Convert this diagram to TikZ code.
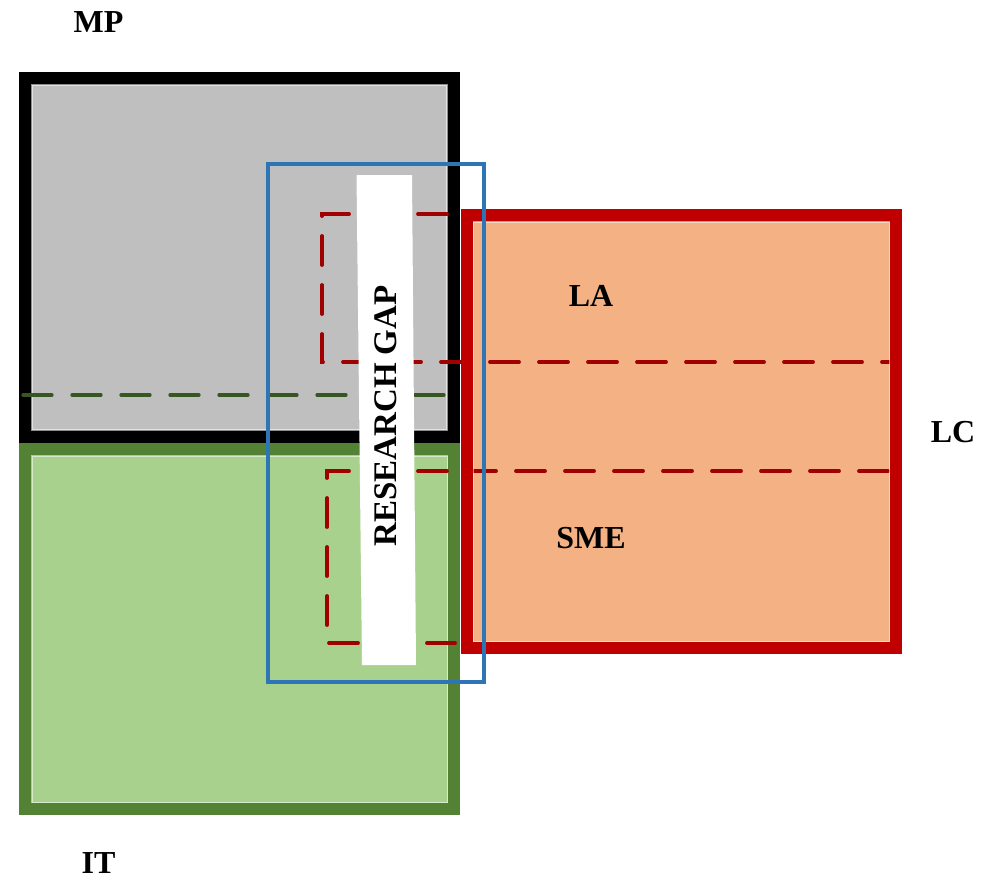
\documentclass[tikz,border=0pt]{standalone}
\usepackage{fontspec}
\setmainfont{Liberation Serif}
\definecolor{mpfill}{HTML}{BFBFBF}
\definecolor{itfill}{HTML}{A9D18E}
\definecolor{itline}{HTML}{548235}
\definecolor{lcfill}{HTML}{F4B183}
\definecolor{lcline}{HTML}{C00000}
\definecolor{gapblue}{HTML}{2E75B6}
\definecolor{dashred}{HTML}{A00000}
\definecolor{dashgreen}{HTML}{375623}
\begin{document}
\begin{tikzpicture}[x=1pt,y=-1pt,
  setbox/.style={line width=12.5pt},
  glow/.style={draw=white,opacity=0.55,line width=1.2pt},
  reddash/.style={draw=dashred,line width=3.8pt,line cap=round,dash pattern=on 29pt off 20pt},
  greendash/.style={draw=dashgreen,line width=3.3pt,line cap=round,dash pattern=on 29pt off 20pt},
  lbl/.style={font=\fontsize{32}{38}\selectfont\bfseries,inner sep=0pt}]
\useasboundingbox (0,0) rectangle (981,879);
% MP (gray)
\draw[setbox,draw=black,fill=mpfill] (25.5,78.5) rectangle (453.5,436.5);
\draw[glow] (32,85) rectangle (447,430);
% IT (green)
\draw[setbox,draw=itline,fill=itfill] (25.5,449.5) rectangle (454,809);
\draw[glow] (32,456) rectangle (447.5,802.5);
% LC (red)
\draw[setbox,draw=lcline,fill=lcfill] (467,215.5) rectangle (896,648);
% dashed lines
\draw[greendash] (23,395) -- (445,395);
\coordinate (ua) at (447,214);
\coordinate (ub) at (322,214);
\coordinate (uc) at (322,362);
\coordinate (ud) at (890,362);
\draw[reddash] (ua) -- (ub) -- (uc) -- (ud);
\coordinate (la) at (888,471);
\coordinate (lb) at (327,471);
\coordinate (lc) at (327,643);
\coordinate (ld) at (455,643);
\draw[reddash] (la) -- (lb) -- (lc) -- (ld);
% LC border above the dashes
\draw[setbox,draw=lcline] (467,215.5) rectangle (896,648);
\draw[glow] (473.5,222) rectangle (889.5,641.5);
% research gap frame
\draw[draw=gapblue,line width=4pt] (268,164) rectangle (484,682);
% white strip
\fill[white] (356.5,175) -- (412,175) -- (416,665) -- (362,665) -- cycle;
\node[inner sep=0pt,rotate=90,font=\fontsize{33}{38}\selectfont\bfseries] (gap) at (386,416) {RESEARCH GAP};
% labels
\node[lbl] (mp) at (98.5,22.5) {MP};
\node[lbl] (it) at (98.5,863) {IT};
\node[lbl] (lc) at (953,432) {LC};
\node[lbl] (la) at (591,296) {LA};
\node[lbl] (sme) at (591,538) {SME};
\end{tikzpicture}
\end{document}
